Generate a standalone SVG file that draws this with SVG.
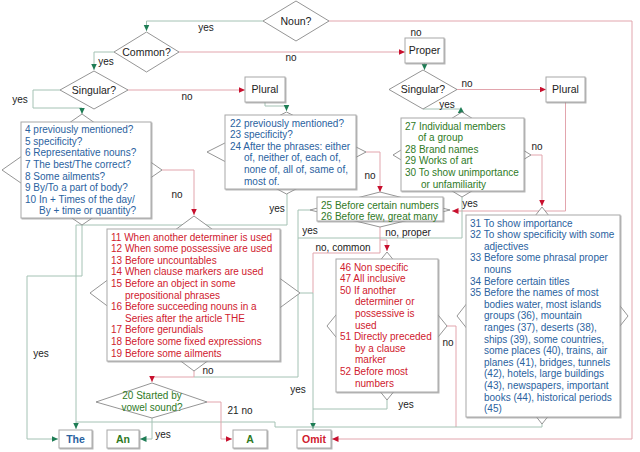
<svg xmlns="http://www.w3.org/2000/svg" width="640" height="452" viewBox="0 0 640 452">
<defs>
<marker id="ag" markerUnits="userSpaceOnUse" markerWidth="7" markerHeight="7" refX="6.5" refY="3" orient="auto"><path d="M0,0 L6.5,3 L0,6 z" fill="#1e7d55"/></marker>
<marker id="ar" markerUnits="userSpaceOnUse" markerWidth="7" markerHeight="7" refX="6.5" refY="3" orient="auto"><path d="M0,0 L6.5,3 L0,6 z" fill="#c8102e"/></marker>
<filter id="sh" x="-10%" y="-10%" width="120%" height="120%"><feDropShadow dx="1" dy="1" stdDeviation="0.7" flood-color="#888" flood-opacity="0.6"/></filter>
</defs>
<style>
text{font-family:"Liberation Sans",Arial,sans-serif;font-size:10px}
.box{fill:#fff;stroke:#a8a8a8;stroke-width:1;filter:url(#sh)}
.dia{fill:#fff;stroke:#7a7a7a;stroke-width:0.8}
.y{fill:none;stroke:#a4c2b4;stroke-width:1}
.n{fill:none;stroke:#e2a5ad;stroke-width:1}
.lbl{fill:#222;text-anchor:middle}
.q{fill:#222;text-anchor:middle;font-size:10.5px}
.b{fill:#2a62a0}
.r{fill:#d0202e}
.g{fill:#2f7a1f}
.end{font-weight:bold;font-size:10.5px;text-anchor:middle}
</style>
<rect width="640" height="452" fill="#fff"/>

<g id="connectors">
<path class="y" d="M263,21 H146.5 V31" marker-end="url(#ag)"/>
<path class="n" d="M329,21 H632 V439 H332" marker-end="url(#ar)"/>
<path class="n" d="M179,52 H405" marker-end="url(#ar)"/>
<path class="y" d="M114,52 H94 V70" marker-end="url(#ag)"/>
<path class="n" d="M128,90 H245" marker-end="url(#ar)"/>
<path class="y" d="M60,90 H33 V108 H82 V114" marker-end="url(#ag)"/>
<path class="y" d="M265,102 V106 H286.5 V111" marker-end="url(#ag)"/>
<path class="y" d="M424.5,63 V70" marker-end="url(#ag)"/>
<path class="n" d="M457,89.5 H546" marker-end="url(#ar)"/>
<path class="y" d="M423,109 H461"/>
<polygon points="461,107 457.8,113 464.2,113" fill="#1e7d55"/>
<path class="n" d="M565.5,102 V211 H452" marker-end="url(#ar)"/>
<path class="n" d="M531,155 H542 V206" marker-end="url(#ar)"/>
<path class="n" d="M366,152 H380 V192" marker-end="url(#ar)"/>
<path class="y" d="M287,194 V225 H76 V429" marker-end="url(#ag)"/>
<path class="y" d="M82,225 V276 H27 V439 H58" marker-end="url(#ag)"/>
<path class="n" d="M162,170 H194 V215" marker-end="url(#ar)"/>
<path class="n" d="M194,371 V377 H152 V382" marker-end="url(#ar)"/>
<path class="y" d="M310,210 H298 V377 H194"/>
<path class="y" d="M462,197 V238 H298"/>
<path class="n" d="M380,227 V240 H387 V251" marker-end="url(#ar)"/>
<path class="n" d="M380,240 V253 H313 V293"/>
<path class="y" d="M300,293 H313 V429" marker-end="url(#ag)"/>
<path class="y" d="M387,400 V409 H313"/>
<path class="n" d="M447,326 H456 V427"/>
<path class="y" d="M542,424 V427 H275 V422 H76"/>
<path class="n" d="M207,402 H221 V439 H232" marker-end="url(#ar)"/>
<path class="y" d="M152,418 V439 H140" marker-end="url(#ag)"/>
</g>

<g id="labels">
<text class="lbl" x="206" y="30.5">yes</text>
<text class="lbl" x="416" y="35.5">no</text>
<text class="lbl" x="291" y="60.5">no</text>
<text class="lbl" x="106" y="64.5">yes</text>
<text class="lbl" x="20" y="102.5">yes</text>
<text class="lbl" x="187" y="99.5">no</text>
<text class="lbl" x="467" y="86.5">no</text>
<text class="lbl" x="447" y="107.5">yes</text>
<text class="lbl" x="537" y="149.5">no</text>
<text class="lbl" x="470" y="206.5">yes</text>
<text class="lbl" x="177" y="197.5">no</text>
<text class="lbl" x="370" y="178.5">no</text>
<text class="lbl" x="277" y="211.5">yes</text>
<text class="lbl" x="310" y="233.5">yes</text>
<text class="lbl" x="408" y="235.5">no, proper</text>
<text class="lbl" x="343" y="250.5">no, common</text>
<text class="lbl" x="448" y="345.5">no</text>
<text class="lbl" x="41" y="356.5">yes</text>
<text class="lbl" x="208" y="373.5">no</text>
<text class="lbl" x="298" y="392.5">yes</text>
<text class="lbl" x="406" y="407.5">yes</text>
<text class="lbl" x="240" y="413.5">21 no</text>
<text class="lbl" x="163" y="437.5">yes</text>
</g>

<g id="noun"><polygon class="dia" points="263,21 296,1 329,21 296,41"/><text class="q" x="296" y="24.7">Noun?</text></g>
<g id="common"><polygon class="dia" points="114,52 146.5,32 179,52 146.5,72"/><text class="q" x="146.5" y="55.7">Common?</text></g>
<g id="singular1"><polygon class="dia" points="60,90 94,71 128,90 94,109"/><text class="q" x="94" y="93.7">Singular?</text></g>
<g id="plural1"><rect class="box" x="245" y="77" width="40" height="25"/><text class="q" x="265" y="93.2">Plural</text></g>
<g id="proper"><rect class="box" x="405" y="38" width="39" height="25"/><text class="q" x="424.5" y="54.2">Proper</text></g>
<g id="singular2"><polygon class="dia" points="389,89.5 423,70 457,89.5 423,109"/><text class="q" x="423" y="93.2">Singular?</text></g>
<g id="plural2"><rect class="box" x="546" y="77" width="39" height="25"/><text class="q" x="565.5" y="93.2">Plural</text></g>

<g id="box4">
<polygon class="dia" points="2,170 82,114 162,170 82,225"/>
<rect class="box" x="21" y="122" width="130" height="96"/>
<text class="b" y="133.1"><tspan x="25">4 previously mentioned?</tspan><tspan x="25" dy="11.6">5 specificity?</tspan><tspan x="25" dy="11.6">6 Representative nouns?</tspan><tspan x="25" dy="11.6">7 The best/The correct?</tspan><tspan x="25" dy="11.6">8 Some ailments?</tspan><tspan x="25" dy="11.6">9 By/To a part of body?</tspan><tspan x="25" dy="11.6">10 In + Times of the day/</tspan><tspan x="39" dy="11.6">By + time or quantity?</tspan></text>
</g>

<g id="box22">
<polygon class="dia" points="207,152 286.5,112 366,152 286.5,194"/>
<rect class="box" x="225" y="115" width="131" height="74"/>
<text class="b" y="126.6"><tspan x="230">22 previously mentioned?</tspan><tspan x="230" dy="11.6">23 specificity?</tspan><tspan x="230" dy="11.6">24 After the phrases: either</tspan><tspan x="244" dy="11.6">of, neither of, each of,</tspan><tspan x="244" dy="11.6">none of, all of, same of,</tspan><tspan x="244" dy="11.6">most of.</tspan></text>
</g>

<g id="box27">
<polygon class="dia" points="393,155 462,112 531,155 462,197"/>
<rect class="box" x="401" y="118" width="123" height="73"/>
<text class="g" y="129.6"><tspan x="405">27 Individual members</tspan><tspan x="418" dy="11.6">of a group</tspan><tspan x="405" dy="11.6">28 Brand names</tspan><tspan x="405" dy="11.6">29 Works of art</tspan><tspan x="405" dy="11.6">30 To show unimportance</tspan><tspan x="421" dy="11.6">or unfamiliarity</tspan></text>
</g>

<g id="box25">
<polygon class="dia" points="310,210 380,192 450,210 380,227"/>
<rect class="box" x="317" y="197" width="126" height="24"/>
<text class="g" y="208.6"><tspan x="321">25 Before certain numbers</tspan><tspan x="321" dy="11.6">26 Before few, great many</tspan></text>
</g>

<g id="box11">
<polygon class="dia" points="90,293 194,216 300,293 194,371"/>
<rect class="box" x="107" y="229" width="173" height="132"/>
<text class="r" y="240.6"><tspan x="111">11 When another determiner is used</tspan><tspan x="111" dy="11.6">12 When some possessive are used</tspan><tspan x="111" dy="11.6">13 Before uncountables</tspan><tspan x="111" dy="11.6">14 When clause markers are used</tspan><tspan x="111" dy="11.6">15 Before an object in some</tspan><tspan x="125" dy="11.6">prepositional phrases</tspan><tspan x="111" dy="11.6">16 Before succeeding nouns in a</tspan><tspan x="125" dy="11.6">Series after the article THE</tspan><tspan x="111" dy="11.6">17 Before gerundials</tspan><tspan x="111" dy="11.6">18 Before some fixed expressions</tspan><tspan x="111" dy="11.6">19 Before some ailments</tspan></text>
</g>

<g id="box46">
<polygon class="dia" points="327,326 387,252 447,326 387,400"/>
<rect class="box" x="336" y="259" width="102" height="133"/>
<text class="r" y="270.6"><tspan x="340">46 Non specific</tspan><tspan x="340" dy="11.6">47 All inclusive</tspan><tspan x="340" dy="11.6">50 If another</tspan><tspan x="355" dy="11.6">determiner or</tspan><tspan x="355" dy="11.6">possessive is</tspan><tspan x="355" dy="11.6">used</tspan><tspan x="340" dy="11.6">51 Directly preceded</tspan><tspan x="355" dy="11.6">by a clause</tspan><tspan x="355" dy="11.6">marker</tspan><tspan x="340" dy="11.6">52 Before most</tspan><tspan x="355" dy="11.6">numbers</tspan></text>
</g>

<g id="box31">
<polygon class="dia" points="457,316 542,207 628,316 542,424"/>
<rect class="box" x="466" y="215" width="154" height="202"/>
<text class="b" y="226.6"><tspan x="470">31 To show importance</tspan><tspan x="470" dy="11.6">32 To show specificity with some</tspan><tspan x="484" dy="11.6">adjectives</tspan><tspan x="470" dy="11.6">33 Before some phrasal proper</tspan><tspan x="484" dy="11.6">nouns</tspan><tspan x="470" dy="11.6">34 Before certain titles</tspan><tspan x="470" dy="11.6">35 Before the names of most</tspan><tspan x="484" dy="11.6">bodies water, most islands</tspan><tspan x="484" dy="11.6">groups (36),  mountain</tspan><tspan x="484" dy="11.6">ranges (37), deserts (38),</tspan><tspan x="484" dy="11.6">ships (39), some countries,</tspan><tspan x="484" dy="11.6">some places (40), trains, air</tspan><tspan x="484" dy="11.6">planes (41), bridges, tunnels</tspan><tspan x="484" dy="11.6">(42), hotels, large buildings</tspan><tspan x="484" dy="11.6">(43), newspapers, important</tspan><tspan x="484" dy="11.6">books (44), historical periods</tspan><tspan x="484" dy="11.6">(45)</tspan></text>
</g>

<g id="vowel">
<polygon class="dia" points="96,402 152,383 207,402 152,418"/>
<text class="g" text-anchor="middle" x="152" y="398.6">20 Started by</text>
<text class="g" text-anchor="middle" x="152" y="410.6">vowel sound?</text>
</g>

<g id="the"><rect class="box" x="59" y="430" width="33" height="18"/><text class="end b" x="75.5" y="443">The</text></g>
<g id="an"><rect class="box" x="107" y="430" width="32" height="18"/><text class="end g" x="123" y="443">An</text></g>
<g id="a"><rect class="box" x="233" y="430" width="34" height="18"/><text class="end g" x="250" y="443">A</text></g>
<g id="omit"><rect class="box" x="297" y="430" width="34" height="18"/><text class="end r" x="314" y="443">Omit</text></g>
</svg>
